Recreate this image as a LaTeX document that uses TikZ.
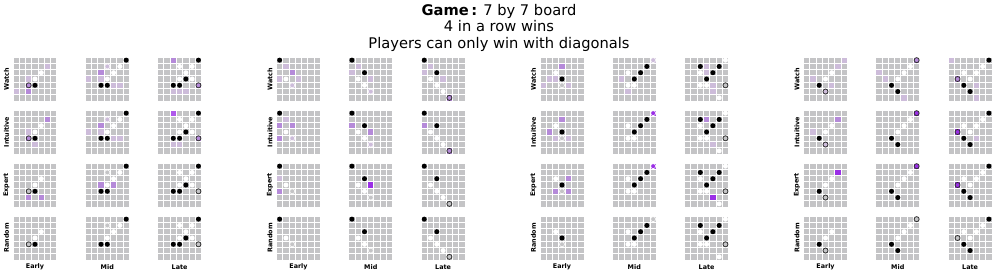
\documentclass[tikz,border=0pt]{standalone}
\usepackage{fontspec}
\setmainfont{DejaVu Sans}
\usepackage{xcolor}
\usepackage{tikz}
\definecolor{grigio}{HTML}{C4C4C6}
\definecolor{lil}{HTML}{CDBCDA}
\definecolor{viola}{HTML}{B58AD9}
\definecolor{violascuro}{HTML}{9B2FE6}

% una tavola 7x7: pannello, colonna, riga, contenuto
\newcommand{\tavola}[4]{%
  \begin{scope}[shift={({13+263.5*#1+72.3*#2},{57+53*#3})},x=4.714pt,y=-4.714pt]
    \foreach \ci in {0,...,6}
      \foreach \ri in {0,...,6}
        \fill[grigio] (\ci+0.08,\ri+0.08) rectangle (\ci+0.92,\ri+0.92);
    #4
  \end{scope}}
% caselle colorate e pezzi
\newcommand{\cel}[2]{\foreach \ci/\ri in {#2}{\fill[#1] (\ci+0.08,\ri+0.08) rectangle (\ci+0.92,\ri+0.92);}}
\newcommand{\pz}[2]{\foreach \ci/\ri in {#2}{\path[#1] (\ci+0.5,\ri+0.5) circle[radius=0.4];}}

\begin{document}
\begin{tikzpicture}[x=0.75pt,y=-0.75pt,
    nero/.style={fill=black},
    bianco/.style={fill=white},
    vuoto/.style={draw=black!80, line width=0.6pt},
    fantasma/.style={draw=white!90!grigio, line width=0.5pt},
    titolo/.style={anchor=north, align=center, inner sep=0pt, font=\fontsize{11}{12.4}\selectfont},
    riga/.style={rotate=90, inner sep=0pt, font=\fontsize{4.8}{5}\selectfont\bfseries},
    colonna/.style={inner sep=0pt, font=\fontsize{4.8}{5}\selectfont\bfseries}]
  \useasboundingbox (0,0) rectangle (996,273);

  % Titolo
  \node[titolo] (titolo) at (499,4)
    {\textbf{Game\,:} 7 by 7 board\\4 in a row wins\\Players can only win with diagonals};

  % Etichette
  \foreach \p in {0,...,3}{
    \foreach \nome [count=\i from 0] in {Watch,Intuitive,Expert,Random}
      \node[riga] (r\p\i) at ({13+263.5*\p-6.5},{57+53*\i+22}) {\nome};
    \foreach \nome [count=\j from 0] in {Early,Mid,Late}
      \node[colonna] (c\p\j) at ({13+263.5*\p+72.3*\j+22},267) {\nome};
  }

  % Pannello 1
  \tavola{0}{0}{0}{\cel{lil}{2/3,5/1,0/5} \cel{viola}{2/5,2/4} \pz{vuoto}{2/4} \pz{nero}{3/4} \pz{bianco}{4/2,3/3}}
  \tavola{0}{1}{0}{\cel{lil}{3/1,2/3,4/4,0/3,5/4} \cel{viola}{2/2} \pz{fantasma}{3/1} \pz{nero}{6/0,2/4,3/4} \pz{bianco}{5/1,4/2,3/3}}
  \tavola{0}{2}{0}{\cel{lil}{2/5,3/5,4/5} \cel{viola}{2/0,6/4} \pz{vuoto}{6/4} \pz{nero}{6/0,4/3,2/4,3/4} \pz{bianco}{3/1,5/1,4/2,3/3,5/3}}
  \tavola{0}{0}{1}{\cel{lil}{2/3,3/5} \cel{viola}{5/1,2/4} \pz{vuoto}{2/4} \pz{nero}{3/4} \pz{bianco}{4/2,3/3}}
  \tavola{0}{1}{1}{\cel{lil}{3/1,2/3,4/4,0/3,5/4} \cel{viola}{2/2} \pz{fantasma}{3/1} \pz{nero}{6/0,2/4,3/4} \pz{bianco}{5/1,4/2,3/3}}
  \tavola{0}{2}{1}{\cel{lil}{2/5,3/5} \cel{viola}{6/4} \cel{violascuro!80}{2/0} \pz{vuoto}{6/4} \pz{nero}{6/0,4/3,2/4,3/4} \pz{bianco}{3/1,5/1,4/2,3/3,5/3}}
  \tavola{0}{0}{2}{\cel{viola}{2/5,4/5} \pz{vuoto}{2/4} \pz{nero}{3/4} \pz{bianco}{4/2,3/3}}
  \tavola{0}{1}{2}{\cel{viola}{2/3,4/3} \pz{fantasma}{3/1} \pz{nero}{6/0,2/4,3/4} \pz{bianco}{5/1,4/2,3/3}}
  \tavola{0}{2}{2}{\pz{vuoto}{6/4} \pz{nero}{6/0,4/3,2/4,3/4} \pz{bianco}{3/1,5/1,4/2,3/3,5/3}}
  \tavola{0}{0}{3}{\pz{vuoto}{2/4} \pz{nero}{3/4} \pz{bianco}{4/2,3/3}}
  \tavola{0}{1}{3}{\pz{fantasma}{3/1} \pz{nero}{6/0,2/4,3/4} \pz{bianco}{5/1,4/2,3/3}}
  \tavola{0}{2}{3}{\pz{vuoto}{6/4} \pz{nero}{6/0,4/3,2/4,3/4} \pz{bianco}{3/1,5/1,4/2,3/3,5/3}}

  % Pannello 2
  \tavola{1}{0}{0}{\cel{lil}{1/1,3/3,0/3,2/4} \cel{viola}{2/2} \pz{fantasma}{2/4} \pz{nero}{0/0} \pz{bianco}{1/3}}
  \tavola{1}{1}{0}{\cel{lil}{1/1,0/2,3/3,3/5} \pz{fantasma}{3/5} \pz{nero}{0/0,2/2} \pz{bianco}{1/3,2/4}}
  \tavola{1}{2}{0}{\cel{lil}{1/1,0/2,3/3} \cel{viola}{4/6} \pz{vuoto}{4/6} \pz{nero}{0/0,2/2} \pz{bianco}{1/3,2/4,3/5}}
  \tavola{1}{0}{1}{\cel{lil}{1/1,2/4} \cel{viola}{0/2,2/2,0/4} \pz{fantasma}{2/4} \pz{nero}{0/0} \pz{bianco}{1/3}}
  \tavola{1}{1}{1}{\cel{lil}{3/5} \cel{viola}{0/2,3/3} \pz{fantasma}{3/5} \pz{nero}{0/0,2/2} \pz{bianco}{1/3,2/4}}
  \tavola{1}{2}{1}{\cel{viola}{0/2,4/6} \pz{vuoto}{4/6} \pz{nero}{0/0,2/2} \pz{bianco}{1/3,2/4,3/5}}
  \tavola{1}{0}{2}{\cel{lil}{0/2} \cel{viola}{0/4} \pz{fantasma}{2/4} \pz{nero}{0/0} \pz{bianco}{1/3}}
  \tavola{1}{1}{2}{\cel{violascuro}{3/3} \pz{fantasma}{3/5} \pz{nero}{0/0,2/2} \pz{bianco}{1/3,2/4}}
  \tavola{1}{2}{2}{\pz{vuoto}{4/6} \pz{nero}{0/0,2/2} \pz{bianco}{1/3,2/4,3/5}}
  \tavola{1}{0}{3}{\pz{fantasma}{2/4} \pz{nero}{0/0} \pz{bianco}{1/3}}
  \tavola{1}{1}{3}{\pz{fantasma}{3/5} \pz{nero}{0/0,2/2} \pz{bianco}{1/3,2/4}}
  \tavola{1}{2}{3}{\pz{vuoto}{4/6} \pz{nero}{0/0,2/2} \pz{bianco}{1/3,2/4,3/5}}

  % Pannello 3
  \tavola{2}{0}{0}{\cel{lil}{1/3,2/3,4/4,0/4} \cel{viola}{3/1} \pz{fantasma}{3/4} \pz{nero}{3/3} \pz{bianco}{2/2}}
  \tavola{2}{1}{0}{\cel{lil}{6/0,2/5,1/3} \pz{fantasma}{6/0} \pz{nero}{5/1,4/2,3/3} \pz{bianco}{2/2,2/4,3/4}}
  \tavola{2}{2}{0}{\cel{lil}{3/1,3/2,4/4,4/5} \pz{vuoto}{6/4} \pz{nero}{2/1,5/1,4/2,3/3} \pz{bianco}{6/0,2/2,2/4,3/4,5/6}}
  \tavola{2}{0}{1}{\cel{lil}{2/4,4/4} \cel{viola}{3/1,1/3} \pz{fantasma}{3/4} \pz{nero}{3/3} \pz{bianco}{2/2}}
  \tavola{2}{1}{1}{\cel{violascuro}{6/0} \pz{fantasma}{6/0} \pz{nero}{5/1,4/2,3/3} \pz{bianco}{2/2,2/4,3/4}}
  \tavola{2}{2}{1}{\cel{lil}{4/5} \cel{viola}{3/1} \pz{vuoto}{6/4} \pz{nero}{2/1,5/1,4/2,3/3} \pz{bianco}{6/0,2/2,2/4,3/4,5/6}}
  \tavola{2}{0}{2}{\cel{viola}{4/2,2/4,4/4} \pz{fantasma}{3/4} \pz{nero}{3/3} \pz{bianco}{2/2}}
  \tavola{2}{1}{2}{\cel{violascuro}{6/0} \pz{fantasma}{6/0} \pz{nero}{5/1,4/2,3/3} \pz{bianco}{2/2,2/4,3/4}}
  \tavola{2}{2}{2}{\cel{violascuro}{4/5} \pz{vuoto}{6/4} \pz{nero}{2/1,5/1,4/2,3/3} \pz{bianco}{6/0,2/2,2/4,3/4,5/6}}
  \tavola{2}{0}{3}{\pz{fantasma}{3/4} \pz{nero}{3/3} \pz{bianco}{2/2}}
  \tavola{2}{1}{3}{\pz{fantasma}{6/0} \pz{nero}{5/1,4/2,3/3} \pz{bianco}{2/2,2/4,3/4}}
  \tavola{2}{2}{3}{\pz{vuoto}{6/4} \pz{nero}{2/1,5/1,4/2,3/3} \pz{bianco}{6/0,2/2,2/4,3/4,5/6}}

  % Pannello 4
  \tavola{3}{0}{0}{\cel{lil}{5/1,6/0,1/3,4/4,3/5} \pz{vuoto}{3/5} \pz{nero}{2/4} \pz{bianco}{4/2,3/3}}
  \tavola{3}{1}{0}{\cel{lil}{0/2,1/3,4/6} \cel{viola}{6/0} \pz{vuoto}{6/0} \pz{nero}{2/4,3/5} \pz{bianco}{5/1,4/2,3/3}}
  \tavola{3}{2}{0}{\cel{lil}{4/4,4/6,0/0} \cel{viola}{1/3} \pz{vuoto}{1/3} \pz{nero}{6/0,2/4,3/5} \pz{bianco}{5/1,2/2,4/2,3/3}}
  \tavola{3}{0}{1}{\cel{lil}{1/3,3/5} \cel{viola}{5/1} \pz{vuoto}{3/5} \pz{nero}{2/4} \pz{bianco}{4/2,3/3}}
  \tavola{3}{1}{1}{\cel{violascuro}{6/0} \pz{vuoto}{6/0} \pz{nero}{2/4,3/5} \pz{bianco}{5/1,4/2,3/3}}
  \tavola{3}{2}{1}{\cel{lil}{4/4} \cel{violascuro}{1/3} \pz{vuoto}{1/3} \pz{nero}{6/0,2/4,3/5} \pz{bianco}{5/1,2/2,4/2,3/3}}
  \tavola{3}{0}{2}{\cel{violascuro}{5/1} \pz{vuoto}{3/5} \pz{nero}{2/4} \pz{bianco}{4/2,3/3}}
  \tavola{3}{1}{2}{\cel{violascuro}{6/0} \pz{vuoto}{6/0} \pz{nero}{2/4,3/5} \pz{bianco}{5/1,4/2,3/3}}
  \tavola{3}{2}{2}{\cel{violascuro}{1/3} \pz{vuoto}{1/3} \pz{nero}{6/0,2/4,3/5} \pz{bianco}{5/1,2/2,4/2,3/3}}
  \tavola{3}{0}{3}{\pz{vuoto}{3/5} \pz{nero}{2/4} \pz{bianco}{4/2,3/3}}
  \tavola{3}{1}{3}{\pz{vuoto}{6/0} \pz{nero}{2/4,3/5} \pz{bianco}{5/1,4/2,3/3}}
  \tavola{3}{2}{3}{\pz{vuoto}{1/3} \pz{nero}{6/0,2/4,3/5} \pz{bianco}{5/1,2/2,4/2,3/3}}
\end{tikzpicture}
\end{document}
